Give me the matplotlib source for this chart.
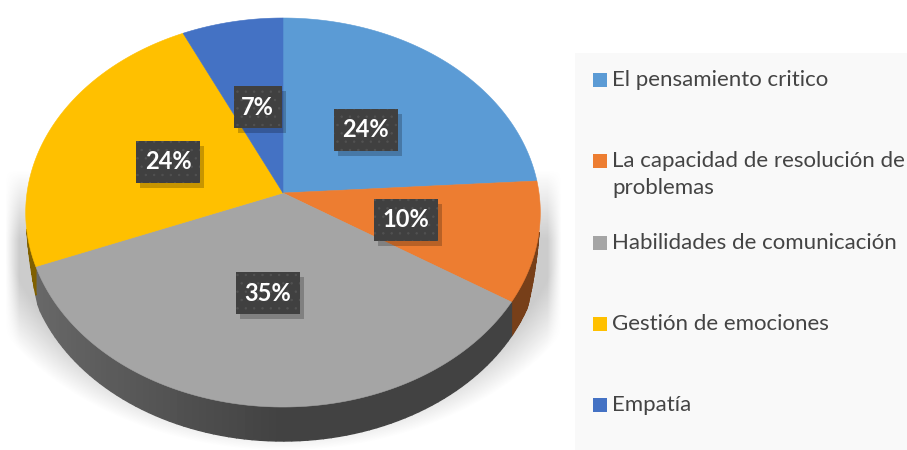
import matplotlib
matplotlib.use("Agg")
import matplotlib.pyplot as plt
from matplotlib.patches import Rectangle
import numpy as np

labels = ["El pensamiento critico", "La capacidad de resolución de\nproblemas",
          "Habilidades de comunicación", "Gestión de emociones", "Empatía"]
values = [24, 10, 35, 24, 7]
colors = ["#5B9BD5", "#ED7D31", "#A5A5A5", "#FFC000", "#4472C4"]
legend_y = [80, 161, 243, 324, 405]
label_nudge = [(1, 2), (-4, 2), (-2, -6), (0, 3), (0, 0)]

plt.rcParams["font.family"] = ["Lato", "DejaVu Sans"]
plt.rcParams["hatch.linewidth"] = 0.5

# pixel geometry of the tilted pie
cx, cy = 283.0, 193.0
rx = 256.0
a, c = -173.2, 0.1003
depth = 34


def project(ang):
    # clockwise from the top, circle -> screen with perspective
    u, v = np.sin(ang), np.cos(ang)
    w = 1 + c * v
    return cx + rx * u / w, (a * v + cy) / w


def wall(ang):
    # wall thins out towards the sides of the pie
    return depth * np.clip((-0.2 - np.cos(ang)) / 0.2, 0, 1)


fig = plt.figure(figsize=(9.07, 4.5), dpi=100)
ax = fig.add_axes([0, 0, 1, 1])
ax.axis("off")

# legend panel
ax.add_patch(Rectangle((575, 53), 332, 397, fc="#F9F9F9", ec="none", zorder=0))

# soft shadow under the pie
yy, xx = np.mgrid[0:450, 0:575]
d = np.sqrt(((xx - 283) / 330.0) ** 2 + ((yy - 200) / 250.0) ** 2)
alpha = np.clip((1 - d) / 0.14, 0, 1) * np.clip((278 - np.abs(xx - 283)) / 14.0, 0, 1)
alpha = alpha * np.clip((yy - 170) / 70.0, 0, 1) * 0.5
shadow = np.zeros((450, 575, 4))
shadow[..., :3] = 0.6
shadow[..., 3] = alpha
ax.imshow(shadow, extent=(0, 575, 450, 0), zorder=1, interpolation="bilinear")

edges = np.cumsum([0] + values) / sum(values) * 2 * np.pi

# side wall, lighter towards the left
for i in range(len(values)):
    base = np.array(matplotlib.colors.to_rgb(colors[i]))
    angs = np.linspace(edges[i], edges[i + 1], 80)
    for t0, t1 in zip(angs[:-1], angs[1:]):
        if np.cos(t0) > -0.2 and np.cos(t1) > -0.2:
            continue
        x0, y0 = project(t0)
        x1, y1 = project(t1)
        shade = 0.40 + 0.25 * max(-np.sin(t0), 0)
        if i != 2:
            shade = 0.5
        col = base * shade
        ax.fill([x0, x1, x1, x0], [y0, y1, y1 + wall(t1), y0 + wall(t0)], fc=col, ec=col, lw=1, zorder=2)

# top face
for i in range(len(values)):
    angs = np.linspace(edges[i], edges[i + 1], 120)
    x, y = project(angs)
    ax.fill(np.r_[cx, x], np.r_[cy, y], fc=colors[i], ec=colors[i], lw=0.4, zorder=3)

# data labels
for i in range(len(values)):
    mid = (edges[i] + edges[i + 1]) / 2
    x, y = project(mid)
    lx = (cx + x) / 2 + label_nudge[i][0]
    ly = (cy + y) / 2 + label_nudge[i][1]
    w = 48 if values[i] < 10 else 64
    h = 42
    ax.add_patch(Rectangle((lx - w / 2 + 4, ly - h / 2 + 5), w, h, fc="black", ec="none", alpha=0.22, zorder=4))
    ax.add_patch(Rectangle((lx - w / 2, ly - h / 2), w, h, fc="#404040", ec="#525252", lw=0, hatch="..", zorder=5))
    ax.text(lx, ly, "%d%%" % values[i], color="white", fontsize=17, fontweight="bold",
            ha="center", va="center", zorder=6)

# legend
for i in range(len(labels)):
    ax.add_patch(Rectangle((593, legend_y[i] - 7), 14, 14, fc=colors[i], ec="none", zorder=2))
    ax.text(612, legend_y[i] - 10, labels[i], color="#444444", fontsize=16, ha="left", va="top",
            linespacing=1.45, zorder=3)

ax.set_xlim(0, 907)
ax.set_ylim(450, 0)
fig.savefig("out.png", dpi=100)
